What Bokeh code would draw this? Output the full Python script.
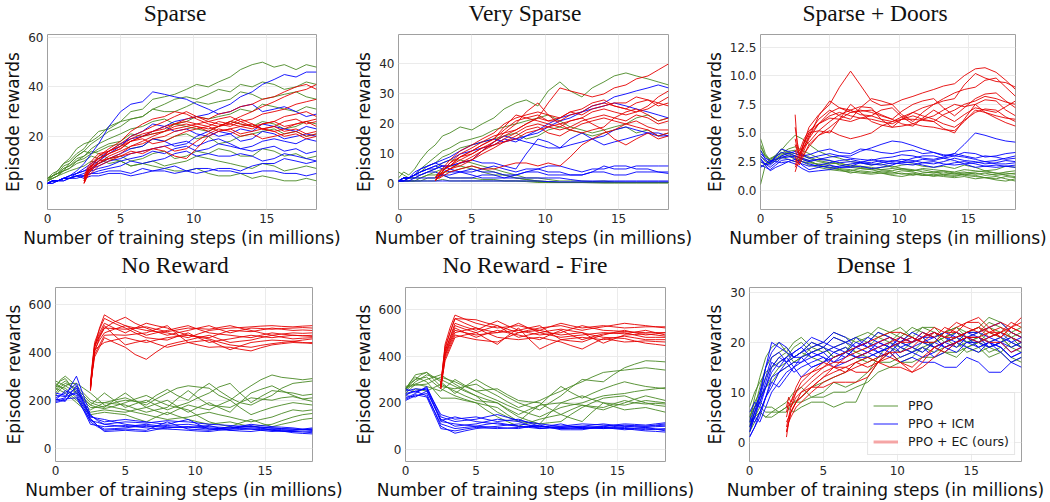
from bokeh.plotting import figure
from bokeh.layouts import column, row
from bokeh.models import FixedTicker, Range1d, Legend, LegendItem, Div
from bokeh.embed import file_html
from bokeh.resources import INLINE

# x positions (millions of steps): PPO / ICM runs, and EC runs (which start at 2.5M)
XG = [0, 0.35, 0.7, 1.1, 1.5, 2, 2.5, 3, 3.5, 4.2, 5, 5.7, 6.5, 7.2, 8, 8.7, 9.5,
      10.2, 11, 11.7, 12.5, 13.2, 14, 14.7, 15.5, 16.2, 17, 17.7, 18.4]
XR = [2.5, 2.65, 2.8, 3.15, 3.5, 4.2, 5, 5.7, 6.5, 7.2, 8, 8.7, 9.5, 10.2, 11, 11.7,
      12.5, 13.2, 14, 14.7, 15.5, 16.2, 17, 17.7, 18.4]

# ---------------- Sparse ----------------
sparse_ppo = [
    [3, 5, 6, 9, 11, 15, 17, 18, 20, 24, 26, 30, 31, 35, 36, 37, 39, 41, 40, 42, 44, 47, 49, 50, 48, 49, 47, 49, 48],
    [2, 4, 5, 6, 9, 12, 14, 17, 19, 22, 24, 27, 28, 31, 33, 35, 36, 35, 37, 39, 38, 41, 40, 42, 41, 39, 40, 42, 41],
    [3, 4, 6, 9, 10, 13, 15, 19, 22, 23, 26, 27, 28, 31, 30, 30, 32, 34, 33, 34, 35, 38, 37, 35, 36, 37, 38, 36, 35],
    [2, 4, 5, 7, 8, 11, 12, 15, 17, 19, 21, 23, 24, 26, 27, 25, 26, 28, 27, 28, 29, 31, 30, 33, 32, 31, 30, 32, 31],
    [3, 4, 5, 8, 9, 12, 14, 13, 15, 17, 18, 21, 20, 21, 22, 25, 24, 23, 22, 24, 26, 25, 24, 26, 25, 23, 24, 26, 25],
    [2, 3, 4, 6, 7, 10, 11, 13, 14, 16, 17, 15, 16, 19, 18, 20, 21, 19, 20, 17, 18, 20, 21, 22, 23, 21, 22, 20, 21],
    [2, 3, 4, 7, 8, 10, 12, 14, 13, 11, 12, 10, 11, 13, 14, 11, 12, 14, 13, 15, 14, 12, 12, 15, 14, 12, 13, 11, 12],
    [3, 4, 5, 6, 7, 9, 10, 12, 11, 9, 10, 8, 9, 10, 8, 9, 10, 12, 11, 10, 9, 8, 7, 9, 8, 6, 7, 8, 7],
    [2, 3, 4, 5, 6, 7, 8, 10, 9, 11, 10, 8, 9, 8, 7, 6, 6, 7, 5, 4, 4, 5, 3, 4, 3, 2, 2, 3, 2],
]
sparse_icm = [
    [1, 2, 2, 3, 4, 6, 9, 13, 17, 24, 30, 33, 34, 38, 37, 36, 35, 33, 31, 29, 30, 32, 33, 30, 31, 32, 30, 28, 29],
    [1, 1, 2, 3, 4, 5, 7, 9, 11, 14, 17, 19, 20, 22, 24, 26, 27, 28, 29, 31, 33, 36, 38, 41, 43, 45, 44, 46, 46],
    [1, 2, 2, 3, 4, 5, 6, 8, 10, 13, 16, 20, 22, 25, 24, 22, 23, 21, 20, 22, 21, 23, 22, 25, 24, 23, 22, 24, 23],
    [1, 2, 2, 3, 3, 5, 6, 7, 9, 11, 13, 15, 16, 19, 18, 16, 17, 20, 22, 20, 21, 18, 19, 22, 21, 19, 20, 21, 20],
    [1, 2, 2, 2, 3, 4, 5, 7, 8, 10, 11, 13, 14, 15, 16, 17, 18, 16, 18, 19, 17, 15, 16, 18, 19, 18, 17, 19, 18],
    [1, 2, 2, 3, 3, 4, 4, 6, 7, 8, 10, 11, 12, 14, 13, 15, 16, 14, 15, 17, 16, 15, 14, 15, 16, 14, 15, 13, 14],
    [1, 2, 2, 2, 3, 3, 4, 5, 6, 7, 8, 10, 9, 10, 11, 13, 14, 12, 13, 12, 12, 13, 12, 10, 11, 13, 12, 11, 10],
    [1, 2, 2, 3, 3, 4, 4, 5, 5, 6, 6, 5, 7, 6, 7, 8, 6, 5, 6, 7, 7, 6, 8, 9, 9, 11, 10, 9, 10],
    [1, 1, 2, 3, 3, 4, 3, 4, 4, 5, 5, 4, 5, 6, 6, 5, 6, 7, 7, 6, 6, 5, 5, 6, 6, 5, 5, 4, 5],
]
sparse_ec = [
    [1, 3, 5, 7, 10, 14, 17, 20, 22, 24, 26, 28, 30, 28, 27, 29, 30, 32, 33, 35, 36, 38, 40, 41, 39],
    [3, 5, 6, 9, 12, 15, 18, 22, 25, 27, 28, 30, 29, 27, 25, 24, 26, 28, 30, 32, 34, 36, 38, 39, 41],
    [2, 5, 7, 9, 11, 13, 15, 18, 20, 22, 24, 25, 27, 28, 26, 25, 24, 26, 27, 29, 30, 31, 33, 34, 35],
    [4, 6, 8, 11, 13, 14, 16, 19, 21, 22, 23, 25, 26, 25, 24, 26, 25, 24, 23, 25, 26, 28, 29, 30, 28],
    [1, 4, 6, 8, 9, 12, 14, 16, 18, 20, 22, 24, 25, 24, 23, 24, 25, 27, 25, 23, 24, 26, 27, 25, 26],
    [2, 3, 5, 8, 10, 11, 13, 16, 17, 19, 20, 22, 23, 24, 22, 24, 26, 25, 24, 23, 22, 23, 25, 26, 24],
    [3, 5, 7, 10, 12, 14, 16, 18, 19, 17, 18, 20, 22, 23, 24, 22, 23, 21, 22, 23, 24, 22, 23, 21, 22],
    [2, 4, 6, 7, 9, 11, 12, 13, 14, 15, 16, 14, 15, 18, 21, 23, 22, 20, 21, 19, 20, 21, 22, 20, 21],
    [1, 3, 4, 6, 8, 10, 12, 14, 13, 15, 14, 12, 11, 15, 20, 22, 23, 24, 25, 23, 22, 20, 21, 19, 20],
    [3, 4, 6, 9, 11, 13, 15, 18, 20, 21, 22, 23, 24, 25, 26, 27, 28, 26, 24, 25, 26, 24, 25, 26, 27],
]

# ---------------- Very Sparse ----------------
vsparse_ppo = [
    [2, 4, 3, 5, 8, 11, 13, 16, 17, 19, 18, 20, 22, 25, 27, 28, 26, 31, 34, 31, 29, 32, 34, 36, 37, 36, 35, 34, 33],
    [1, 2, 2, 3, 5, 7, 9, 11, 12, 14, 15, 16, 18, 19, 20, 21, 22, 23, 21, 19, 18, 17, 18, 19, 20, 22, 23, 21, 22],
    [1, 1, 2, 3, 4, 6, 7, 9, 10, 12, 13, 14, 15, 16, 17, 15, 16, 18, 19, 18, 17, 16, 17, 18, 19, 17, 18, 16, 17],
    [1, 2, 2, 2, 3, 4, 5, 7, 8, 8, 7, 6, 5, 4, 3, 2, 2, 1.5, 1, 1, 1, 0.8, 1, 0.6, 0.5, 0.5, 0.5, 0.5, 0.5],
    [1, 1, 1, 1, 2, 3, 4, 5, 6, 6, 5, 4, 3, 3, 2, 1.5, 1, 0.8, 0.5, 0.5, 0.5, 0.5, 0.5, 0.5, 0.5, 0.5, 0.5, 0.5, 0.5],
    [1, 1, 1, 1, 1, 2, 2, 3, 2, 2, 2, 1.5, 1.5, 1, 1, 0.8, 0.5, 0.5, 0.5, 0.5, 0.5, 0.4, 0.3, 0.3, 0.3, 0.3, 0.3, 0.3, 0.3],
    [4, 3, 2, 2, 2, 3, 3, 4, 4, 5, 6, 5, 4, 3, 2, 1.5, 1, 0.8, 0.5, 0.5, 0.5, 0.5, 0.5, 0.5, 0.5, 0.5, 0.5, 0.5, 0.5],
    [1, 1, 1, 1, 1, 1, 1, 1.5, 1, 1, 1, 1, 1, 1, 1, 1, 0.8, 0.6, 0.5, 0.5, 0.5, 0.5, 0.5, 0.5, 0.5, 0.5, 0.5, 0.5, 0.5],
]
vsparse_icm = [
    [1, 2, 2, 3, 5, 6, 7, 8, 9, 11, 13, 14, 15, 14, 15, 16, 17, 19, 21, 22, 24, 26, 27, 29, 30, 31, 32, 33, 32],
    [1, 1, 2, 3, 4, 5, 6, 7, 8, 10, 11, 12, 13, 15, 14, 16, 18, 20, 22, 23, 24, 25, 26, 27, 26, 25, 24, 23, 22],
    [1, 2, 2, 3, 4, 5, 5, 6, 6, 7, 8, 11, 14, 16, 15, 14, 13, 12, 12, 15, 17, 15, 16, 18, 19, 18, 17, 16, 16],
    [1, 1, 2, 2, 3, 4, 5, 6, 6, 7, 8, 7, 7, 6, 5, 10, 15, 14, 12, 13, 14, 15, 13, 14, 15, 16, 17, 17, 16],
    [1, 2, 2, 4, 5, 6, 7, 6, 5, 4, 4, 5, 6, 5, 4, 5, 5, 4, 4, 3, 3, 4, 6, 5, 5, 6, 6, 6, 6],
    [1, 2, 2, 3, 4, 5, 6, 5, 4, 4, 3, 2, 2, 2, 3, 4, 4, 3, 3, 3, 3, 4, 4, 3, 3, 4, 4, 4, 3.5],
    [1, 1, 1, 2, 2, 2, 2, 3, 2, 2, 2, 3, 3, 2, 2, 2, 2, 2, 2, 1.5, 1, 1, 1, 1, 1, 1, 1, 1, 1],
    [1, 1, 1, 1, 1, 1, 1, 1, 1, 1, 1, 1, 1, 1, 1, 1, 1, 0.8, 0.7, 0.7, 0.7, 0.7, 0.7, 0.7, 0.7, 0.7, 0.7, 0.7, 0.7],
    [1, 2, 2, 3, 3, 4, 4, 3, 3, 4, 5, 4, 4, 3, 3, 4, 5, 6, 6, 5, 4, 5, 5, 6, 6, 5, 5, 4, 4],
]
vsparse_ec = [
    [1, 2, 3, 5, 7, 10, 12, 14, 16, 17, 18, 20, 22, 27, 32, 31, 30, 29, 30, 32, 33, 35, 36, 38, 40],
    [2, 3, 4, 6, 8, 11, 13, 15, 17, 20, 22, 23, 24, 23, 22, 24, 25, 27, 28, 26, 25, 27, 28, 27, 29],
    [1, 2, 3, 5, 6, 9, 11, 13, 15, 18, 21, 22, 23, 21, 22, 24, 23, 25, 26, 27, 27, 29, 28, 26, 27],
    [2, 3, 4, 5, 7, 9, 10, 12, 14, 17, 20, 24, 27, 23, 20, 21, 22, 24, 25, 24, 23, 24, 25, 27, 26],
    [1, 2, 2, 4, 5, 7, 9, 11, 13, 15, 17, 19, 20, 19, 18, 19, 21, 22, 23, 22, 21, 23, 22, 20, 21],
    [2, 3, 3, 5, 6, 9, 11, 13, 15, 19, 23, 22, 21, 20, 19, 21, 22, 20, 18, 15, 13, 15, 17, 15, 16],
    [1, 2, 3, 4, 5, 7, 8, 10, 12, 14, 16, 18, 19, 17, 16, 18, 20, 21, 22, 21, 20, 21, 19, 18, 18],
    [1, 2, 2, 3, 4, 5, 6, 5, 5, 6, 7, 7, 6, 7, 6, 9, 13, 15, 17, 18, 20, 19, 18, 16, 17],
    [1, 2, 3, 5, 6, 8, 10, 12, 13, 14, 15, 17, 18, 19, 20, 18, 17, 18, 19, 22, 24, 25, 23, 21, 22],
    [2, 3, 3, 4, 5, 6, 8, 11, 14, 16, 18, 20, 22, 21, 21, 23, 24, 26, 27, 26, 25, 24, 26, 29, 31],
]

# ---------------- Sparse + Doors ----------------
doors_ppo = [
    [4.5, 3.2, 2.6, 3.1, 3.5, 4.2, 4.8, 4.5, 4.0, 3.4, 3.0, 2.8, 2.5, 2.4, 2.2, 2.3, 2.0, 2.2, 2.3, 2.1, 2.0, 2.1, 1.9, 2.2, 2.0, 1.7, 1.8, 2.1, 2.0],
    [0.5, 2.2, 2.8, 3.0, 3.2, 3.6, 3.8, 3.5, 3.2, 2.8, 2.6, 2.2, 2.0, 1.9, 1.8, 2.0, 2.1, 1.9, 1.7, 1.8, 1.6, 1.7, 1.5, 1.6, 1.4, 1.5, 1.3, 1.4, 1.5],
    [3.5, 2.9, 2.5, 2.7, 3.0, 3.3, 3.2, 3.0, 2.8, 2.5, 2.3, 2.4, 2.1, 2.0, 1.9, 1.8, 1.7, 1.9, 1.8, 1.6, 1.5, 1.6, 1.4, 1.5, 1.6, 1.7, 1.5, 1.3, 1.2],
    [2.5, 2.2, 2.4, 3.0, 3.6, 3.3, 3.0, 2.7, 2.5, 2.2, 2.0, 1.9, 1.8, 1.6, 1.5, 1.7, 1.6, 1.4, 1.5, 1.3, 1.4, 1.3, 1.2, 1.4, 1.3, 1.1, 1.2, 1.0, 0.8],
    [4.0, 3.0, 2.7, 3.0, 3.3, 3.0, 2.7, 2.5, 2.4, 2.3, 2.2, 1.8, 1.5, 1.7, 1.6, 1.5, 1.4, 1.5, 1.3, 1.5, 1.6, 1.4, 1.5, 1.3, 1.2, 1.1, 1.0, 1.2, 1.1],
    [3.0, 2.5, 2.3, 2.6, 2.9, 2.7, 2.5, 2.8, 2.6, 2.2, 1.9, 1.8, 1.7, 1.9, 1.8, 1.6, 1.5, 1.7, 1.6, 1.4, 1.2, 1.4, 1.3, 1.4, 1.5, 1.3, 1.4, 1.6, 1.7],
    [2.0, 2.3, 2.5, 2.8, 3.1, 3.4, 3.5, 3.2, 2.9, 2.6, 2.4, 2.3, 2.2, 2.1, 2.0, 1.8, 1.9, 1.8, 1.7, 1.9, 1.8, 1.7, 1.6, 1.8, 1.7, 1.6, 1.5, 1.5, 1.4],
    [3.8, 3.0, 2.6, 2.7, 2.8, 3.1, 2.9, 2.5, 2.2, 2.0, 1.8, 1.7, 1.6, 1.5, 1.4, 1.5, 1.3, 1.2, 1.4, 1.3, 1.3, 1.2, 1.1, 1.2, 1.0, 1.1, 0.9, 0.8, 1.0],
]
doors_icm = [
    [3.0, 2.6, 2.4, 3.0, 3.6, 3.4, 3.2, 3.0, 3.1, 3.4, 3.6, 3.3, 3.2, 3.6, 3.5, 3.3, 3.2, 3.4, 3.5, 3.2, 3.3, 3.0, 3.2, 4.0, 5.0, 4.8, 4.5, 4.3, 4.2],
    [2.5, 2.3, 2.2, 2.6, 3.0, 3.2, 3.4, 3.1, 2.8, 3.0, 3.2, 3.0, 3.0, 3.4, 3.7, 4.0, 4.3, 4.2, 3.9, 3.6, 3.3, 3.1, 3.0, 3.3, 3.2, 2.9, 3.0, 3.2, 3.3],
    [2.7, 2.3, 2.0, 2.4, 2.8, 2.9, 3.0, 2.7, 2.5, 2.7, 2.9, 3.0, 2.8, 2.7, 2.6, 2.8, 2.9, 3.1, 3.0, 2.8, 2.7, 2.9, 3.2, 3.0, 2.8, 3.0, 2.9, 2.7, 2.8],
    [2.2, 2.0, 1.8, 2.2, 2.6, 2.7, 2.5, 2.3, 2.1, 2.2, 2.4, 2.6, 2.7, 2.5, 2.4, 2.6, 2.5, 2.7, 2.6, 2.4, 2.3, 2.5, 2.8, 2.6, 2.5, 2.3, 2.4, 2.6, 2.5],
    [3.2, 2.8, 2.6, 2.5, 2.4, 2.5, 2.7, 2.5, 2.3, 2.1, 2.0, 2.1, 2.3, 2.4, 2.2, 2.4, 2.6, 2.5, 2.4, 2.2, 2.0, 2.2, 2.4, 2.5, 2.3, 2.1, 2.0, 2.1, 2.2],
    [2.8, 2.2, 1.7, 2.0, 2.2, 2.5, 2.3, 1.9, 1.6, 1.7, 1.8, 2.0, 2.0, 2.1, 1.9, 2.0, 2.2, 2.5, 2.8, 3.0, 3.0, 2.8, 2.6, 2.3, 2.0, 2.1, 2.2, 2.1, 2.0],
    [3.5, 2.7, 2.3, 2.9, 3.3, 3.2, 3.0, 2.8, 2.6, 2.7, 2.6, 2.4, 2.5, 2.4, 2.3, 2.2, 2.4, 2.3, 2.2, 2.4, 2.5, 2.3, 2.2, 2.3, 2.4, 2.5, 2.6, 2.8, 3.0],
    [2.0, 2.3, 2.5, 2.7, 2.9, 3.0, 2.8, 2.2, 1.8, 2.0, 2.2, 2.0, 2.1, 2.4, 2.7, 2.5, 2.3, 2.4, 2.5, 2.7, 2.6, 2.8, 3.0, 2.9, 2.7, 2.5, 2.3, 2.3, 2.4],
]
doors_ec = [
    [6.6, 4.0, 3.0, 4.2, 5.5, 6.6, 7.5, 9.0, 10.4, 9.2, 7.8, 7.4, 7.5, 7.9, 8.2, 8.5, 8.8, 9.1, 9.3, 10.0, 10.6, 10.7, 10.3, 9.6, 8.8],
    [1.6, 2.2, 2.5, 3.5, 4.5, 5.8, 6.8, 7.2, 7.0, 6.6, 6.5, 6.2, 6.0, 6.4, 6.8, 7.2, 7.5, 7.8, 8.0, 9.2, 10.2, 9.8, 9.5, 9.4, 9.0],
    [2.5, 2.8, 3.0, 4.1, 5.0, 6.2, 7.0, 6.5, 6.2, 7.2, 8.0, 7.8, 7.5, 6.6, 6.0, 6.8, 7.5, 8.0, 8.5, 8.8, 9.0, 9.6, 9.8, 9.0, 8.2],
    [3.5, 3.0, 2.8, 3.8, 4.8, 5.8, 6.5, 6.8, 6.5, 6.3, 6.2, 6.0, 5.8, 6.2, 6.5, 6.2, 6.0, 6.6, 7.0, 7.5, 7.8, 8.2, 8.0, 7.7, 7.5],
    [4.5, 3.6, 3.2, 3.8, 4.2, 5.2, 6.0, 6.6, 7.0, 7.3, 7.2, 6.2, 5.5, 5.6, 5.8, 6.2, 6.5, 7.0, 7.5, 7.3, 7.5, 7.9, 7.8, 7.0, 6.5],
    [2.0, 2.4, 2.6, 3.2, 3.8, 4.8, 5.5, 6.2, 6.8, 7.0, 6.8, 6.5, 6.2, 5.8, 5.6, 6.3, 7.0, 6.5, 6.0, 6.6, 7.2, 7.0, 6.8, 7.3, 7.8],
    [5.5, 4.2, 3.4, 4.5, 5.2, 5.8, 6.3, 6.2, 6.0, 6.3, 6.5, 7.0, 7.2, 6.4, 5.8, 5.6, 5.5, 5.3, 5.2, 6.0, 7.0, 6.8, 6.5, 6.3, 6.2],
    [3.0, 2.5, 2.2, 3.1, 4.0, 4.8, 5.2, 4.8, 4.5, 4.7, 5.0, 5.6, 6.0, 6.2, 6.2, 6.1, 6.0, 5.4, 5.0, 6.2, 7.5, 6.8, 6.3, 5.9, 5.6],
    [4.0, 3.4, 3.0, 4.2, 5.0, 5.2, 5.0, 6.2, 7.5, 6.8, 6.0, 5.7, 5.5, 6.2, 6.8, 6.5, 6.2, 5.8, 5.5, 6.1, 6.8, 7.1, 7.0, 6.4, 6.0],
    [2.2, 2.6, 2.8, 3.8, 4.6, 6.5, 7.8, 7.2, 6.8, 6.9, 7.0, 6.6, 6.2, 6.9, 7.5, 7.8, 8.0, 7.2, 6.5, 7.2, 8.0, 8.4, 8.5, 7.8, 7.2],
]

# ---------------- No Reward ----------------
noreward_ppo = [
    [250, 285, 300, 280, 260, 230, 200, 190, 190, 200, 210, 195, 180, 205, 230, 250, 260, 255, 250, 220, 200, 230, 260, 285, 305, 295, 290, 285, 290],
    [280, 270, 260, 245, 230, 200, 170, 170, 175, 190, 200, 195, 190, 220, 245, 220, 200, 240, 270, 240, 210, 190, 180, 200, 220, 250, 270, 275, 280],
    [240, 265, 280, 260, 240, 210, 180, 205, 230, 200, 170, 185, 200, 180, 160, 175, 190, 210, 230, 255, 270, 230, 190, 215, 240, 235, 230, 220, 225],
    [260, 255, 250, 230, 210, 185, 160, 175, 190, 185, 180, 165, 150, 160, 170, 205, 240, 210, 180, 175, 170, 190, 210, 205, 200, 210, 215, 205, 210],
    [230, 255, 270, 260, 250, 220, 190, 180, 170, 200, 230, 200, 170, 185, 200, 175, 150, 170, 190, 170, 150, 190, 230, 245, 260, 240, 220, 205, 195],
    [270, 255, 240, 220, 200, 175, 150, 155, 160, 155, 150, 160, 170, 155, 140, 160, 180, 170, 160, 180, 200, 170, 140, 155, 170, 180, 190, 185, 180],
    [220, 245, 260, 270, 270, 250, 230, 205, 180, 170, 160, 150, 140, 130, 120, 125, 130, 140, 150, 140, 130, 120, 110, 120, 130, 145, 160, 155, 160],
    [250, 240, 230, 210, 190, 165, 140, 145, 150, 145, 140, 125, 110, 130, 150, 135, 120, 110, 100, 105, 110, 100, 90, 95, 100, 115, 130, 140, 145],
    [260, 280, 290, 260, 230, 205, 180, 170, 165, 175, 190, 205, 220, 200, 180, 170, 160, 135, 110, 100, 90, 105, 120, 105, 90, 100, 110, 120, 125],
]
noreward_icm = [
    [200, 205, 210, 260, 300, 220, 140, 115, 100, 105, 110, 108, 105, 110, 115, 112, 110, 105, 100, 98, 95, 92, 90, 88, 85, 82, 80, 78, 80],
    [210, 220, 230, 250, 270, 200, 130, 125, 120, 110, 100, 95, 90, 92, 95, 98, 100, 95, 90, 88, 85, 92, 100, 95, 90, 88, 85, 80, 75],
    [190, 195, 200, 220, 240, 180, 120, 95, 80, 82, 85, 90, 95, 90, 85, 88, 90, 88, 85, 82, 80, 83, 85, 82, 80, 78, 75, 80, 85],
    [220, 218, 215, 222, 230, 170, 110, 90, 75, 78, 80, 78, 75, 92, 110, 95, 80, 78, 75, 82, 90, 85, 80, 78, 75, 72, 70, 72, 70],
    [200, 220, 240, 230, 220, 160, 100, 95, 90, 92, 95, 90, 85, 82, 80, 78, 75, 72, 70, 75, 80, 88, 95, 85, 75, 72, 70, 68, 65],
    [195, 200, 205, 208, 210, 160, 115, 108, 100, 95, 90, 95, 100, 95, 90, 88, 85, 90, 95, 85, 75, 72, 70, 75, 80, 72, 65, 62, 60],
    [230, 225, 220, 235, 250, 190, 135, 120, 110, 115, 120, 115, 110, 105, 100, 110, 120, 100, 80, 78, 75, 78, 80, 75, 70, 72, 75, 78, 80],
    [205, 200, 195, 230, 260, 190, 125, 95, 70, 72, 75, 72, 70, 78, 85, 88, 90, 85, 80, 82, 85, 88, 90, 88, 85, 82, 80, 78, 75],
]
noreward_ec = [
    [240, 340, 420, 500, 555, 530, 510, 500, 490, 485, 480, 470, 460, 475, 490, 495, 500, 502, 505, 508, 510, 507, 505, 508, 510],
    [260, 330, 400, 460, 500, 525, 545, 520, 500, 485, 470, 480, 490, 500, 510, 495, 480, 490, 500, 498, 495, 498, 500, 502, 500],
    [250, 350, 430, 480, 520, 500, 480, 500, 520, 510, 500, 485, 470, 465, 460, 475, 490, 488, 485, 492, 500, 495, 490, 492, 490],
    [245, 330, 410, 450, 480, 495, 510, 490, 470, 480, 490, 500, 510, 495, 480, 475, 470, 465, 460, 470, 480, 475, 470, 468, 470],
    [270, 360, 440, 495, 540, 520, 500, 480, 460, 455, 450, 465, 480, 460, 440, 448, 455, 462, 470, 465, 460, 465, 470, 468, 465],
    [255, 320, 380, 420, 460, 440, 420, 390, 370, 400, 430, 440, 450, 460, 470, 455, 440, 445, 450, 460, 470, 462, 455, 458, 460],
    [250, 340, 420, 470, 510, 470, 430, 440, 450, 435, 420, 430, 440, 445, 450, 430, 410, 425, 440, 445, 450, 448, 445, 450, 455],
    [260, 330, 390, 430, 470, 472, 470, 475, 480, 495, 510, 475, 440, 430, 420, 422, 420, 412, 405, 418, 430, 435, 440, 438, 440],
    [240, 330, 410, 425, 440, 450, 460, 450, 440, 450, 460, 465, 470, 462, 455, 442, 430, 425, 420, 428, 435, 440, 445, 440, 435],
    [265, 350, 425, 465, 500, 498, 495, 500, 505, 495, 485, 492, 500, 498, 495, 502, 510, 500, 490, 480, 470, 475, 480, 478, 480],
]

# ---------------- No Reward - Fire ----------------
fire_ppo = [
    [260, 285, 300, 320, 330, 310, 290, 265, 240, 270, 300, 275, 250, 225, 200, 185, 170, 200, 230, 265, 300, 295, 290, 320, 350, 365, 380, 378, 375],
    [250, 290, 320, 325, 330, 300, 270, 265, 260, 270, 280, 255, 230, 205, 180, 195, 210, 230, 250, 270, 290, 310, 330, 335, 340, 345, 350, 345, 340],
    [270, 275, 280, 290, 300, 310, 320, 300, 280, 255, 230, 215, 200, 175, 150, 170, 190, 230, 270, 245, 220, 240, 260, 275, 290, 280, 270, 265, 260],
    [240, 260, 280, 275, 270, 260, 250, 275, 300, 275, 250, 230, 210, 190, 170, 155, 140, 160, 180, 190, 200, 215, 230, 235, 240, 248, 255, 260, 265],
    [260, 290, 310, 300, 290, 255, 220, 220, 220, 210, 200, 190, 180, 150, 120, 155, 190, 195, 200, 215, 230, 215, 200, 195, 190, 200, 210, 205, 200],
    [250, 270, 290, 305, 320, 310, 300, 285, 270, 250, 230, 195, 160, 140, 120, 115, 110, 155, 200, 195, 190, 185, 180, 195, 210, 200, 195, 198, 195],
    [230, 245, 260, 255, 250, 265, 280, 265, 250, 230, 210, 205, 200, 170, 140, 125, 110, 115, 120, 150, 180, 200, 220, 225, 230, 215, 200, 190, 185],
    [255, 280, 300, 305, 310, 285, 260, 245, 230, 215, 200, 170, 140, 120, 100, 115, 130, 140, 150, 135, 120, 160, 200, 185, 170, 175, 180, 170, 160],
    [265, 270, 275, 278, 280, 295, 310, 300, 290, 270, 250, 255, 260, 235, 210, 205, 200, 175, 150, 170, 190, 180, 170, 185, 200, 215, 230, 220, 210],
]
fire_icm = [
    [240, 245, 250, 255, 260, 205, 150, 140, 130, 135, 140, 130, 120, 125, 130, 115, 100, 95, 90, 92, 95, 98, 100, 105, 110, 108, 105, 110, 115],
    [220, 230, 240, 255, 270, 205, 140, 130, 120, 125, 130, 140, 150, 138, 125, 118, 110, 105, 100, 105, 110, 108, 105, 102, 100, 102, 100, 102, 105],
    [230, 228, 225, 238, 250, 190, 130, 115, 100, 105, 110, 120, 130, 125, 120, 105, 90, 92, 95, 98, 100, 105, 110, 105, 100, 98, 95, 98, 100],
    [250, 255, 260, 258, 255, 188, 120, 115, 110, 105, 100, 108, 115, 108, 100, 98, 95, 102, 110, 100, 90, 92, 95, 90, 85, 88, 90, 88, 90],
    [210, 220, 230, 235, 240, 170, 100, 85, 70, 80, 90, 95, 100, 105, 110, 105, 100, 95, 90, 92, 95, 92, 90, 92, 95, 90, 85, 87, 85],
    [235, 242, 250, 240, 230, 170, 110, 100, 90, 95, 100, 98, 95, 92, 90, 98, 105, 95, 85, 85, 85, 92, 100, 95, 90, 92, 95, 88, 80],
    [260, 252, 245, 255, 265, 195, 125, 132, 140, 130, 120, 115, 110, 105, 100, 95, 90, 95, 100, 100, 100, 95, 90, 98, 105, 102, 100, 105, 110],
    [215, 225, 235, 230, 225, 158, 90, 85, 80, 88, 95, 92, 90, 92, 95, 98, 100, 98, 95, 92, 90, 92, 95, 92, 90, 85, 80, 78, 75],
]
fire_ec = [
    [270, 360, 450, 520, 575, 558, 540, 530, 520, 525, 530, 520, 510, 525, 540, 530, 520, 525, 530, 525, 520, 522, 525, 525, 525],
    [280, 355, 430, 500, 560, 558, 555, 542, 530, 515, 500, 510, 520, 525, 530, 520, 510, 518, 525, 532, 540, 535, 530, 525, 520],
    [260, 340, 420, 480, 540, 525, 510, 530, 550, 530, 510, 500, 490, 495, 500, 515, 530, 520, 510, 508, 505, 502, 500, 500, 500],
    [275, 338, 400, 450, 500, 510, 520, 510, 500, 520, 540, 520, 500, 490, 480, 485, 490, 495, 500, 498, 495, 502, 510, 500, 490],
    [265, 338, 410, 465, 520, 500, 480, 495, 510, 500, 490, 480, 470, 490, 510, 490, 470, 482, 495, 498, 500, 490, 480, 480, 480],
    [270, 325, 380, 430, 480, 490, 500, 475, 450, 485, 520, 475, 430, 450, 470, 475, 480, 475, 470, 478, 485, 478, 470, 470, 470],
    [285, 362, 440, 500, 560, 540, 520, 500, 480, 475, 470, 475, 480, 470, 460, 445, 430, 452, 475, 468, 460, 462, 465, 462, 460],
    [260, 325, 390, 440, 490, 480, 470, 465, 460, 480, 500, 505, 510, 500, 490, 495, 500, 490, 480, 478, 475, 465, 455, 450, 445],
    [275, 348, 420, 475, 530, 515, 500, 515, 530, 505, 480, 490, 500, 508, 515, 508, 500, 478, 455, 472, 490, 492, 495, 490, 485],
    [265, 335, 405, 458, 510, 500, 490, 495, 500, 505, 510, 520, 530, 500, 470, 465, 460, 475, 490, 500, 510, 500, 490, 495, 500],
]

# ---------------- Dense 1 ----------------
dense_ppo = [
    [4, 9, 13, 17, 19, 20, 18, 20, 21, 19, 20, 22, 21, 20, 21, 23, 22, 21, 23, 22, 21, 22, 23, 21, 22, 24, 23, 21, 22],
    [3, 7, 11, 15, 17, 18, 19, 17, 18, 20, 19, 21, 20, 21, 22, 21, 20, 22, 21, 23, 22, 20, 21, 22, 23, 25, 24, 22, 23],
    [5, 8, 10, 13, 15, 16, 17, 19, 20, 18, 19, 17, 18, 21, 20, 22, 21, 20, 22, 23, 23, 21, 22, 20, 21, 19, 20, 22, 21],
    [2, 5, 7, 6, 6, 7, 8, 10, 11, 9, 10, 12, 11, 12, 14, 17, 20, 19, 18, 19, 20, 21, 22, 20, 21, 23, 22, 21, 20],
    [6, 7, 8, 7, 7, 6, 6, 8, 9, 11, 12, 13, 14, 16, 17, 18, 19, 18, 20, 21, 19, 20, 21, 19, 20, 22, 21, 19, 18],
    [4, 5, 6, 5, 6, 6, 7, 6, 7, 8, 8, 7, 8, 8, 13, 16, 18, 16, 17, 19, 18, 19, 20, 18, 19, 17, 18, 16, 17],
    [3, 6, 9, 11, 12, 14, 15, 16, 17, 18, 19, 17, 18, 17, 16, 17, 18, 20, 19, 18, 20, 21, 19, 20, 20, 18, 19, 17, 16],
    [5, 7, 9, 11, 13, 15, 16, 17, 18, 17, 16, 18, 19, 18, 17, 16, 16, 17, 18, 20, 19, 18, 17, 19, 18, 19, 20, 21, 19],
    [7, 10, 12, 14, 15, 17, 18, 16, 17, 19, 18, 19, 20, 18, 19, 21, 22, 23, 21, 20, 20, 22, 23, 22, 22, 20, 21, 19, 20],
    [2, 4, 6, 5, 5, 6, 7, 8, 8, 9, 9, 10, 10, 11, 12, 14, 15, 16, 16, 17, 17, 18, 18, 19, 20, 19, 18, 20, 19],
]
dense_icm = [
    [2, 5, 9, 15, 20, 19, 18, 17, 17, 18, 19, 21, 20, 19, 21, 20, 19, 21, 20, 22, 21, 19, 20, 21, 22, 23, 24, 22, 21],
    [3, 6, 8, 12, 16, 15, 17, 18, 19, 17, 18, 19, 20, 21, 19, 20, 21, 19, 20, 21, 19, 20, 22, 21, 21, 19, 20, 21, 20],
    [1, 3, 5, 9, 13, 14, 15, 16, 16, 17, 18, 16, 17, 19, 20, 19, 18, 20, 19, 18, 20, 19, 18, 20, 19, 20, 21, 20, 19],
    [4, 5, 4, 7, 10, 12, 14, 15, 16, 18, 17, 16, 18, 17, 17, 18, 19, 17, 18, 19, 17, 18, 20, 19, 18, 20, 19, 17, 18],
    [6, 8, 7, 11, 15, 17, 16, 14, 15, 16, 17, 15, 16, 17, 18, 17, 18, 16, 17, 16, 16, 15, 15, 17, 16, 14, 14, 16, 15],
    [2, 6, 10, 15, 18, 20, 19, 17, 18, 19, 20, 22, 21, 19, 20, 22, 21, 20, 22, 21, 21, 22, 21, 20, 20, 21, 22, 20, 21],
    [5, 4, 6, 9, 12, 11, 13, 15, 17, 15, 16, 17, 18, 20, 19, 18, 17, 19, 18, 17, 18, 20, 19, 21, 20, 19, 20, 18, 19],
    [3, 5, 8, 11, 14, 16, 17, 15, 13, 15, 16, 18, 19, 17, 18, 19, 20, 18, 19, 20, 21, 19, 20, 21, 19, 20, 18, 16, 17],
    [1, 3, 6, 9, 11, 14, 16, 17, 18, 20, 19, 18, 17, 19, 18, 20, 19, 20, 21, 20, 19, 20, 21, 22, 22, 21, 20, 19, 20],
    [4, 7, 9, 13, 17, 18, 16, 18, 19, 21, 20, 19, 18, 19, 20, 18, 19, 21, 20, 21, 22, 21, 20, 22, 21, 20, 19, 17, 18],
]
dense_ec = [
    [1, 4, 6, 8, 9, 11, 13, 14, 15, 16, 15, 16, 17, 16, 15, 17, 19, 20, 21, 22, 23, 21, 22, 24, 23],
    [3, 5, 7, 9, 10, 11, 11, 12, 12, 12, 13, 16, 19, 20, 21, 20, 20, 22, 24, 23, 22, 23, 21, 23, 25],
    [5, 7, 8, 10, 11, 13, 15, 16, 16, 17, 18, 19, 20, 21, 20, 21, 22, 21, 23, 24, 24, 22, 21, 23, 22],
    [2, 4, 5, 7, 8, 10, 12, 13, 14, 16, 17, 16, 15, 15, 14, 15, 17, 19, 20, 21, 21, 22, 23, 22, 21],
    [6, 8, 7, 10, 12, 14, 16, 15, 14, 15, 16, 17, 18, 18, 19, 21, 23, 22, 22, 21, 20, 21, 22, 21, 20],
    [4, 5, 6, 8, 9, 11, 13, 15, 17, 18, 19, 20, 21, 20, 20, 22, 21, 23, 22, 24, 25, 23, 24, 23, 22],
    [2, 4, 6, 8, 10, 12, 14, 15, 15, 14, 14, 16, 18, 16, 14, 16, 19, 18, 20, 21, 21, 20, 20, 18, 19],
    [7, 9, 8, 11, 13, 14, 15, 17, 18, 19, 20, 21, 22, 22, 21, 20, 22, 21, 21, 22, 23, 22, 22, 23, 24],
]

TITLES = ["Sparse", "Very Sparse", "Sparse + Doors", "No Reward", "No Reward - Fire", "Dense 1"]
X_MAX = 18.4
X_TICKS = [0, 5, 10, 15]
Y_TICKS = [[0, 20, 40, 60], [0, 10, 20, 30, 40], [0, 2.5, 5, 7.5, 10, 12.5],
           [0, 200, 400, 600], [0, 200, 400, 600], [0, 10, 20, 30]]
Y_RANGES = [(-9.6, 61.2), (-8.5, 49.8), (-1.68, 13.6), (-54.7, 668.6), (-50.7, 693), (-3.9, 31.0)]
LEGEND_LABELS = ["PPO", "PPO + ICM", "PPO + EC (ours)"]

GREEN = "#4a8a26"
BLUE = "#0000ff"
RED = "#e60000"

X_LABEL = "Number of training steps (in millions)"
Y_LABEL = "Episode rewards"
NAN = float("nan")


def title_div(text, height, pad_top):
    html = ('<div style="font-family:\'Liberation Serif\',serif;font-size:23.5px;'
            'line-height:26px;text-align:center;color:#111111;white-space:nowrap;'
            f'padding-top:{pad_top}px;width:350px;">{text}</div>')
    return Div(text=html, width=350, height=height, margin=0)


def runs(p, grid, series, color):
    ys = [s[:len(grid)] for s in series]
    xs = [grid[:len(s)] for s in ys]
    p.multi_line(xs=xs, ys=ys, line_color=color, line_width=1.0, line_alpha=0.9)


def panel(i, ppo, icm, ec, w, h, borders, legend=False):
    p = figure(width=w, height=h, output_backend="svg", toolbar_location=None,
               x_range=Range1d(0, X_MAX), y_range=Range1d(*Y_RANGES[i]),
               min_border_left=borders[0], min_border_right=borders[1],
               min_border_top=borders[2], min_border_bottom=borders[3])
    p.background_fill_color = "white"
    p.border_fill_color = "white"
    p.outline_line_color = "#a0a0a0"
    p.outline_line_width = 1

    p.xaxis.ticker = FixedTicker(ticks=X_TICKS)
    p.yaxis.ticker = FixedTicker(ticks=Y_TICKS[i])
    if i == 2:
        p.yaxis.major_label_overrides = {t: f"{t:.1f}" for t in Y_TICKS[i]}
    for ax in (p.xaxis[0], p.yaxis[0]):
        ax.axis_line_color = None
        ax.major_tick_line_color = None
        ax.minor_tick_line_color = None
        ax.major_tick_out = 0
        ax.major_tick_in = 0
        ax.major_label_text_font = "DejaVu Sans"
        ax.major_label_text_font_size = "12px"
        ax.major_label_text_color = "#262626"
        ax.major_label_standoff = 4
        ax.axis_label_text_font = "DejaVu Sans"
        ax.axis_label_text_font_size = "17px"
        ax.axis_label_text_font_style = "normal"
        ax.axis_label_text_color = "#111111"
        ax.axis_label_standoff = 2
    p.xaxis.axis_label = X_LABEL
    p.yaxis.axis_label = Y_LABEL
    p.grid.grid_line_color = "#ebebeb"
    p.grid.grid_line_width = 1

    runs(p, XG, ppo, GREEN)
    runs(p, XG, icm, BLUE)
    runs(p, XR, ec, RED)

    if legend:
        lg = p.line(x=[NAN], y=[NAN], line_color=GREEN, line_alpha=0.6, line_width=1.5)
        lb = p.line(x=[NAN], y=[NAN], line_color=BLUE, line_alpha=0.6, line_width=1.5)
        lr = p.line(x=[NAN], y=[NAN], line_color=RED, line_alpha=0.35, line_width=3)
        leg = Legend(items=[LegendItem(label=LEGEND_LABELS[0], renderers=[lg]),
                            LegendItem(label=LEGEND_LABELS[1], renderers=[lb]),
                            LegendItem(label=LEGEND_LABELS[2], renderers=[lr])],
                     location="bottom_right")
        leg.label_text_font = "DejaVu Sans"
        leg.label_text_font_size = "12.5px"
        leg.label_text_color = "#1a1a1a"
        leg.label_height = 15
        leg.glyph_height = 15
        leg.glyph_width = 25
        leg.spacing = 3
        leg.padding = 5
        leg.margin = 6
        leg.label_standoff = 10
        leg.border_line_color = "#cccccc"
        leg.background_fill_alpha = 0.85
        p.add_layout(leg)
    return p


# row 1: titles take 31px, figures 219px (frame tops near y=33)
p1 = panel(0, sparse_ppo, sparse_icm, sparse_ec, 350, 219, (45, 34, 2, 40))
p2 = panel(1, vsparse_ppo, vsparse_icm, vsparse_ec, 350, 219, (48, 32, 1, 40))
p3 = panel(2, doors_ppo, doors_icm, doors_ec, 350, 219, (60, 35, 3, 41))
# row 2: titles take 34px, figures 218px (frame tops near y=287)
p4 = panel(3, noreward_ppo, noreward_icm, noreward_ec, 350, 218, (52, 38, 3, 39))
p5 = panel(4, fire_ppo, fire_icm, fire_ec, 350, 218, (54, 35, 3, 39))
p6 = panel(5, dense_ppo, dense_icm, dense_ec, 350, 218, (49, 29, 0, 39), legend=True)

t_row1 = row(*[title_div(t, 31, 0) for t in TITLES[:3]])
t_row2 = row(*[title_div(t, 34, 2) for t in TITLES[3:]])

layout = column(t_row1, row(p1, p2, p3), t_row2, row(p4, p5, p6))

with open("out.html", "w") as f:
    f.write(file_html(layout, INLINE))
